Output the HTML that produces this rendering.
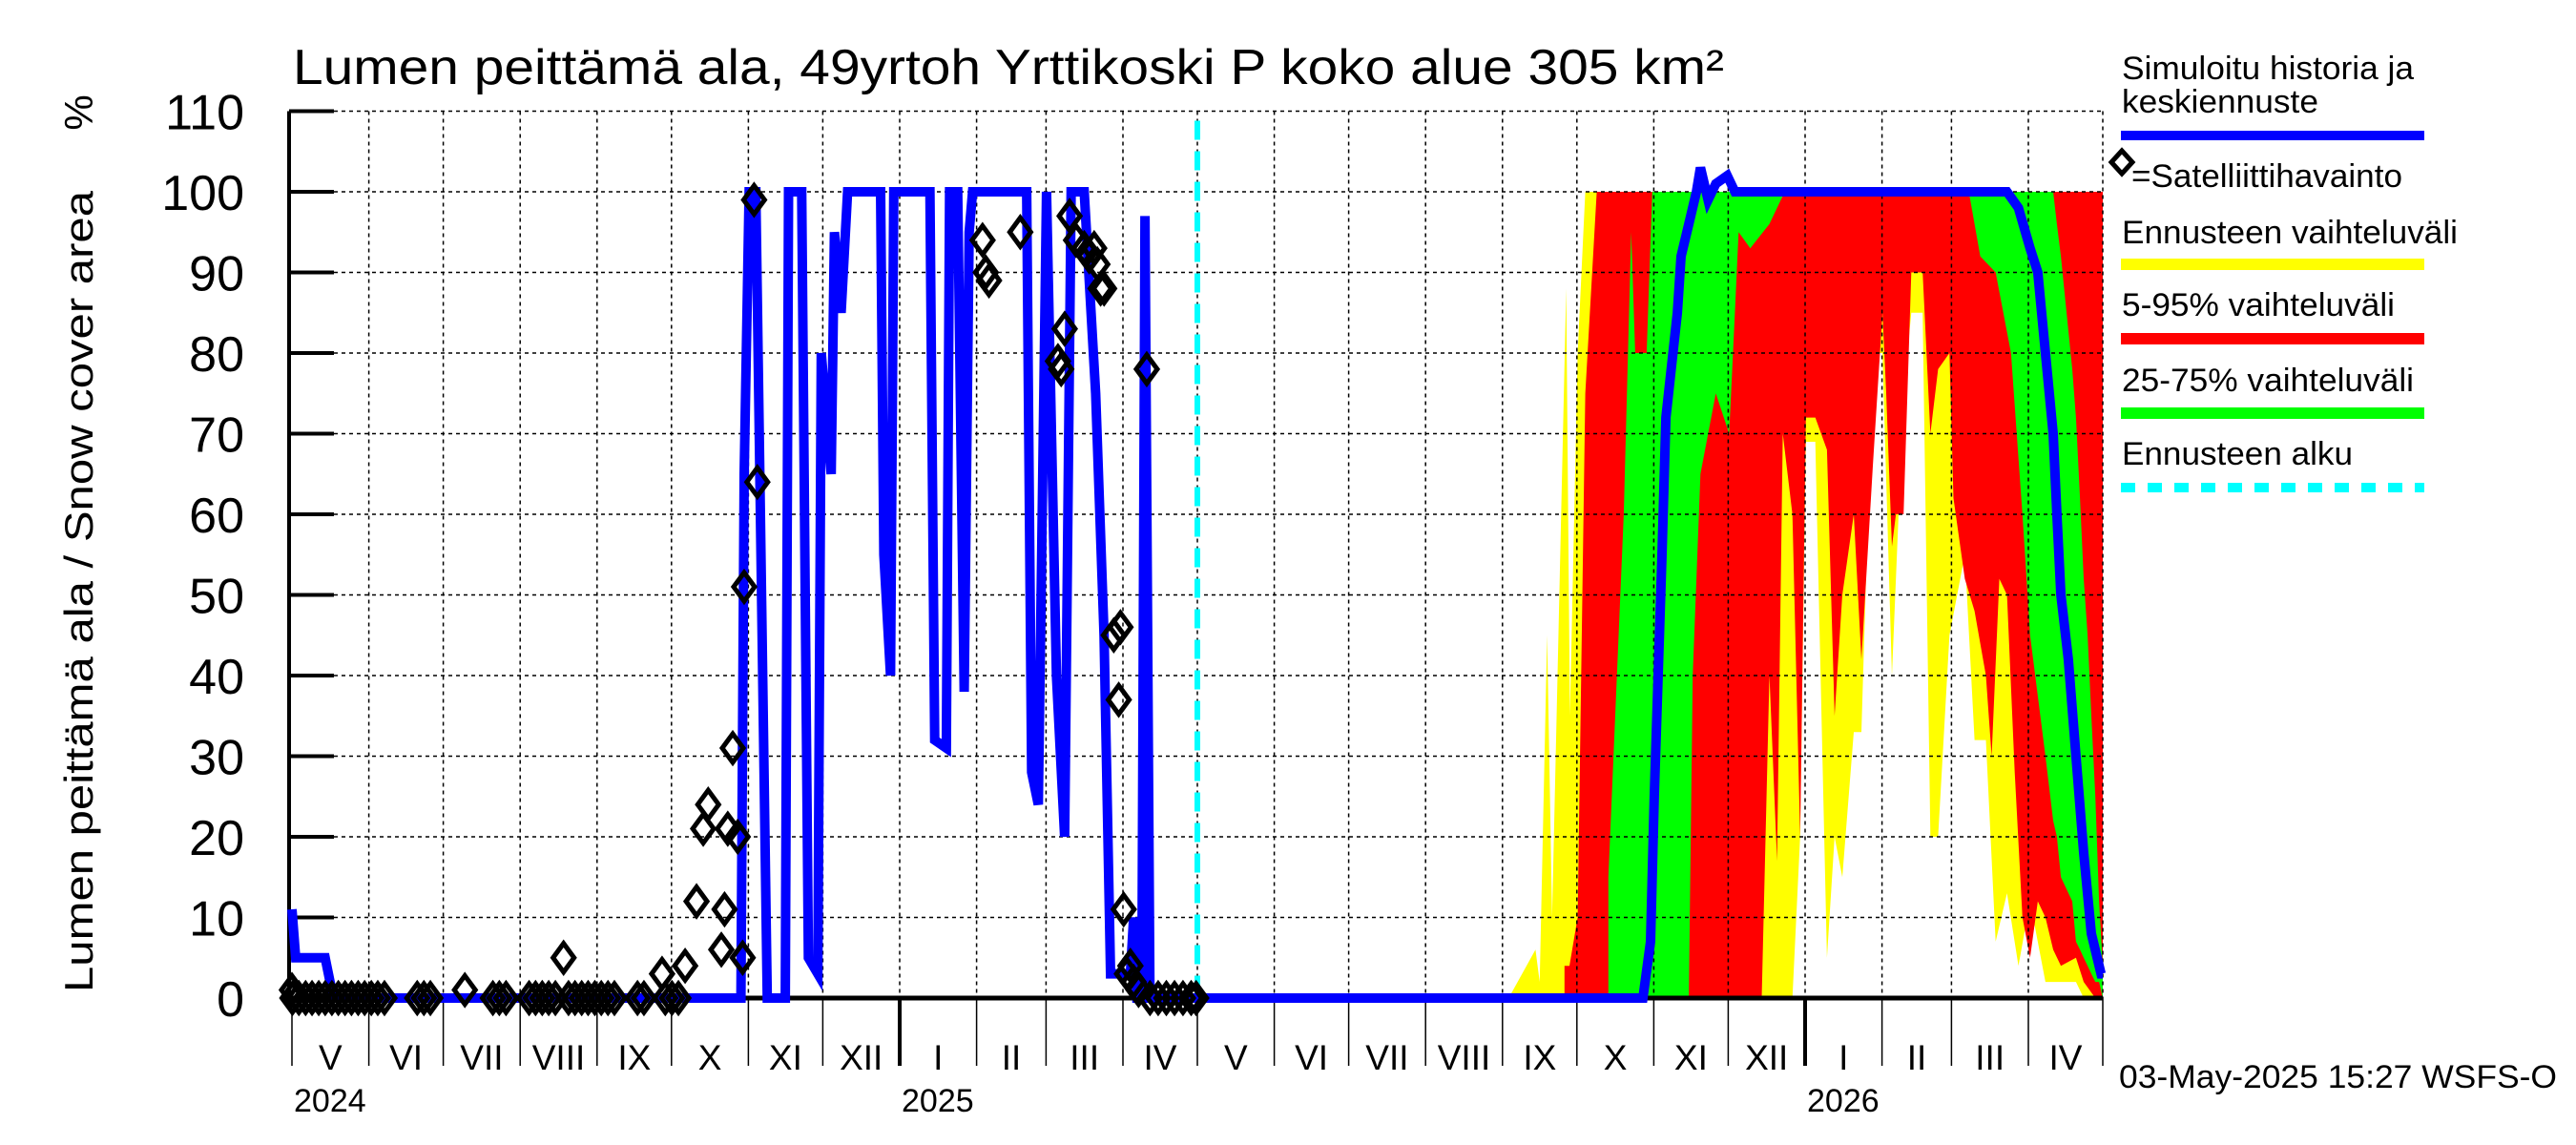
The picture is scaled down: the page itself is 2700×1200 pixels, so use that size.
<!DOCTYPE html>
<html><head><meta charset="utf-8">
<style>
html,body{margin:0;padding:0;background:#fff;}
svg{display:block;font-family:"Liberation Sans",sans-serif;}
</style></head>
<body>
<svg id="chart" width="2700" height="1200" viewBox="0 0 2700 1200" xmlns="http://www.w3.org/2000/svg">
<text x="307" y="88" font-size="52" textLength="1500" lengthAdjust="spacingAndGlyphs">Lumen peittämä ala, 49yrtoh Yrttikoski P koko alue 305 km²</text>
<text transform="translate(97,620) rotate(-90)" text-anchor="middle" font-size="42" textLength="840" lengthAdjust="spacingAndGlyphs">Lumen peittämä ala / Snow cover area</text>
<text transform="translate(97,118) rotate(-90)" text-anchor="middle" font-size="42">%</text>
<g id="bands"></g>
<g id="grid"></g>
<g id="axes"></g>
<g id="series"></g>
<g id="obs"></g>
<g id="legend">
<text x="2224" y="83" font-size="34" textLength="306" lengthAdjust="spacingAndGlyphs">Simuloitu historia ja</text>
<text x="2224" y="118" font-size="34" textLength="206" lengthAdjust="spacingAndGlyphs">keskiennuste</text>
<rect x="2223" y="137" width="318" height="10" fill="#0000ff"/>
<path d="M2224,158 L2235,170 L2224,182 L2213,170 Z" fill="none" stroke="#000" stroke-width="5"/>
<text x="2234" y="196" font-size="34" textLength="284" lengthAdjust="spacingAndGlyphs">=Satelliittihavainto</text>
<text x="2224" y="255" font-size="34" textLength="352" lengthAdjust="spacingAndGlyphs">Ennusteen vaihteluväli</text>
<rect x="2223" y="271" width="318" height="12" fill="#ffff00"/>
<text x="2224" y="331" font-size="34" textLength="286" lengthAdjust="spacingAndGlyphs">5-95% vaihteluväli</text>
<rect x="2223" y="349" width="318" height="12" fill="#ff0000"/>
<text x="2224" y="410" font-size="34" textLength="306" lengthAdjust="spacingAndGlyphs">25-75% vaihteluväli</text>
<rect x="2223" y="427" width="318" height="12" fill="#00ff00"/>
<text x="2224" y="487" font-size="34" textLength="242" lengthAdjust="spacingAndGlyphs">Ennusteen alku</text>
<line x1="2223" y1="511" x2="2541" y2="511" stroke="#00ffff" stroke-width="10" stroke-dasharray="15,13"/>
</g>
<text x="2221" y="1140" font-size="34" textLength="459" lengthAdjust="spacingAndGlyphs">03-May-2025 15:27 WSFS-O</text>
</svg>
<script>
// x = days since 2024-05-01, y = snow cover %
const yTicks = [0,10,20,30,40,50,60,70,80,90,100,110];
const monthStarts = [0,31,61,92,123,153,184,214,245,276,304,335,365,396,426,457,488,518,549,579,610,641,669,700,730];
const monthLabels = ["V","VI","VII","VIII","IX","X","XI","XII","I","II","III","IV","V","VI","VII","VIII","IX","X","XI","XII","I","II","III","IV"];
const yearLabels = ["2024","2025","2026"];
const yearDays = [0,245,610];
const forecastStartDay = 365;

const histDays = [0,1.5,13.4,16.7,181,182.3,184.3,187,191.6,193.6,198.9,200.2,205.5,208.2,212,213.4,217.4,218.7,221.4,224,237.3,238.6,241.3,242.6,257.2,259.1,263.8,265.1,268.4,271,273,274.4,296.2,298.2,300.9,304.2,308.2,311.5,314.1,319.4,324,327.4,330,338,339.3,340.6,342.6,343.9,345.9,365];
const histVals = [11,5,5,0,0,65,100,100,0,0,0,100,100,5,3,80,65,95,85,100,100,55,40,100,100,32,31,100,100,38,95,100,100,28,24,100,40,20,100,100,75,45,3,3,10,0,0,97,0,0];

const fcDays = [365,544.6,547.7,549.2,552.3,553.9,558.5,560,563.1,566.2,567.8,570.9,574,578.6,581.7,691.4,696,700.7,703.8,706.9,710,711.5,713.1,716.1,719.2,722.3,725.4,729.3,730];
const fcVals = [0,0,7,25,55,72,85,92,96,100,103,99,101,102,100,100,98,93,90,80,70,60,50,42,30,18,8,3,3];

const yelDays = [490.5,501.3,503,506,508,513.7,515.2,518.3,521.4,595.6,598.7,604.9,608,610.3,614.1,618.8,621.9,625,629.6,632.7,637.3,641.2,645,649.7,652.8,657.4,660.5,663.6,668.2,674.4,678.3,682.9,686.8,691.4,696,700.7,706.9,713.1,719.2,722.3,730];
const yelLo = [0,0,0,0,0,0,0,0,0,0,0,0,20,69,69,5,20,15,33,33,80,80,40,75,85,85,20,20,45,55,32,32,7,13,4,12,2,2,2,0,0];
const yelHi = [0,6,2,45,10,88,35,80,100,100,100,100,100,100,100,100,100,100,100,100,100,100,100,100,100,100,100,100,100,100,100,100,100,100,100,100,100,100,100,100,100];

const redDays = [513,515,518.3,521.4,526,592.5,595.6,598.7,601,604.9,608,610.3,614.1,618.8,621.9,625,629.6,632.7,637.3,641.2,642.7,645,646.6,649.7,652.8,657.4,660.5,663.6,668.2,669.8,674.4,678.3,682.9,685.2,688.3,691.4,694.5,697.6,700.7,703.8,706.9,710,713.1,719.2,722.3,727,730];
const redLo = [0,0,0,0,0,0,40,17,70,60,20,72,72,68,35,50,60,42,66,85,75,56,60,60,90,90,70,78,80,62,52,48,40,30,52,50,28,10,5,12,10,6,4,5,2,0,0];
const redHi = [4,4,10,75,100,100,100,100,100,100,100,100,100,100,100,100,100,100,100,100,100,100,100,100,100,100,100,100,100,100,100,100,100,100,100,100,100,100,100,100,100,100,100,100,100,100,100];

const grnDays = [530.7,536.9,539.9,541.5,546.1,548.4,563.1,564.7,567.8,574,579.4,581.7,583.2,587.9,595.6,598.7,601.8,676,680.6,686.8,693,697.6,700.7,706.9,710,711.5,713.1,717.7,719.2,720.8,722.3,723.9,725.4,727,728.5,730];
const grnLo = [0,0,0,0,0,0,0,40,65,75,70,85,95,93,96,98,100,100,92,90,80,60,45,30,22,20,15,12,7,6,5,4,3,2,2,0];
const grnHi = [15,60,95,80,80,100,100,100,100,100,100,100,100,100,100,100,100,100,100,100,100,100,100,100,100,96,92,78,72,62,52,45,35,25,12,4];

const obsDays = [0,0.2,2.8,5.5,8.1,10.8,13.4,16.1,18.7,21.4,24,26.7,29.3,32,34.6,37.3,50.5,53.2,55.8,69.7,81,83.6,86.3,95.6,98.2,100.9,103.5,106.2,109.5,111.5,114.1,116.8,119.4,122.1,124.7,127.4,130,139.3,141.9,149.2,150.5,153.2,155.8,158.5,163.1,165.8,167.8,173.1,174.4,175.7,177.7,179.7,181.7,182.3,186.3,187.6,278.4,279.7,281,293.6,308.8,310.1,311.5,313.5,316.1,319.4,321.4,323.4,324.7,326,327.4,331.3,333.3,334,335.3,336.6,338,339.3,341.3,344.6,345.9,349.2,352.5,355.8,359.2,362.5,364.5];
const obsVals = [1,0,0,0,0,0,0,0,0,0,0,0,0,0,0,0,0,0,0,1,0,0,0,0,0,0,0,0,5,0,0,0,0,0,0,0,0,0,0,3,0,0,0,4,12,21,24,6,11,21,31,20,5,51,99,64,94,90,89,95,79,78,83,97,94,93,92,93,91,88,88,45,37,46,11,3,4,2,1,78,0,0,0,0,0,0,0];

const NS = "http://www.w3.org/2000/svg";
const X0 = 306, PXD = 2.6, Y0 = 1046, PXV = 8.45, RIGHT = 2204;
function xs(d){ return X0 + d*PXD; }
function ys(v){ return Y0 - v*PXV; }
function mk(tag, attrs, parent){ const e=document.createElementNS(NS,tag); for(const k in attrs) e.setAttribute(k,attrs[k]); parent.appendChild(e); return e; }

function band(days, lo, hi, color, name){
  let pts=[];
  for(let i=0;i<days.length;i++) pts.push(xs(days[i]).toFixed(1)+","+ys(hi[i]).toFixed(1));
  for(let i=days.length-1;i>=0;i--) pts.push(xs(days[i]).toFixed(1)+","+ys(lo[i]).toFixed(1));
  const p = mk("polygon",{points:pts.join(" "),fill:color},document.getElementById("bands"));
  
  
}
band(yelDays,yelLo,yelHi,"#ffff00","band-min-max");
band(redDays,redLo,redHi,"#ff0000","band-5-95");
band(grnDays,grnLo,grnHi,"#00ff00","band-25-75");

const grid = document.getElementById("grid");
const axes = document.getElementById("axes");
yTicks.forEach(v=>{
  const g = mk("line",{x1:350,x2:RIGHT,y1:ys(v),y2:ys(v),stroke:"#000","stroke-width":1.5,"stroke-dasharray":"4,4"},grid);
  
  
  const t = mk("line",{x1:303,x2:350,y1:ys(v),y2:ys(v),stroke:"#000","stroke-width":4},axes);
  
  
  const l = mk("text",{x:256,y:ys(v)+19,"font-size":52,"text-anchor":"end"},axes);
  l.textContent = v;
  
  
});
monthStarts.forEach((d,i)=>{
  if(i>0){
    const g = mk("line",{x1:xs(d),x2:xs(d),y1:ys(110),y2:Y0,stroke:"#000","stroke-width":1.5,"stroke-dasharray":"4,4"},grid);
    
    
  }
  const isJan = yearDays.indexOf(d) > 0;
  const t = mk("line",{x1:xs(d),x2:xs(d),y1:Y0,y2:1117,stroke:"#000","stroke-width":isJan?4:1.5},axes);
  
  
  if(i<monthLabels.length){
    const l = mk("text",{x:(xs(d)+xs(monthStarts[i+1]))/2,y:1121,"font-size":37,"text-anchor":"middle"},axes);
    l.textContent = monthLabels[i];
    
    
  }
});
yearLabels.forEach((y,i)=>{
  const l = mk("text",{x:xs(yearDays[i])+2,y:1165,"font-size":34},axes);
  l.textContent = y;
  
  
});
const ya = mk("line",{x1:303,x2:303,y1:ys(110),y2:Y0,stroke:"#000","stroke-width":4},axes);


const xa = mk("line",{x1:303,x2:RIGHT,y1:Y0,y2:Y0,stroke:"#000","stroke-width":5},axes);



const ser = document.getElementById("series");
const fsl = mk("line",{x1:xs(forecastStartDay),x2:xs(forecastStartDay),y1:ys(110)+10,y2:Y0,stroke:"#00ffff","stroke-width":6,"stroke-dasharray":"20,12"},ser);


function line(days, vals, name){
  const d = days.map((x,i)=>(i?"L":"M")+xs(x).toFixed(1)+","+ys(vals[i]).toFixed(1)).join(" ");
  const p = mk("path",{d:d,fill:"none",stroke:"#0000ff","stroke-width":10,"stroke-linejoin":"miter"},ser);
  
  
}
line(histDays,histVals,"simulated-history-line");
line(fcDays,fcVals,"median-forecast-line");

const obs = document.getElementById("obs");
obsDays.forEach((d,i)=>{
  const cx = xs(d), cy = ys(obsVals[i]);
  const m = mk("path",{d:`M${cx},${cy-15} L${cx+11},${cy} L${cx},${cy+15} L${cx-11},${cy} Z`,fill:"none",stroke:"#000","stroke-width":5},obs);
  
  
});
</script>
</body></html>
